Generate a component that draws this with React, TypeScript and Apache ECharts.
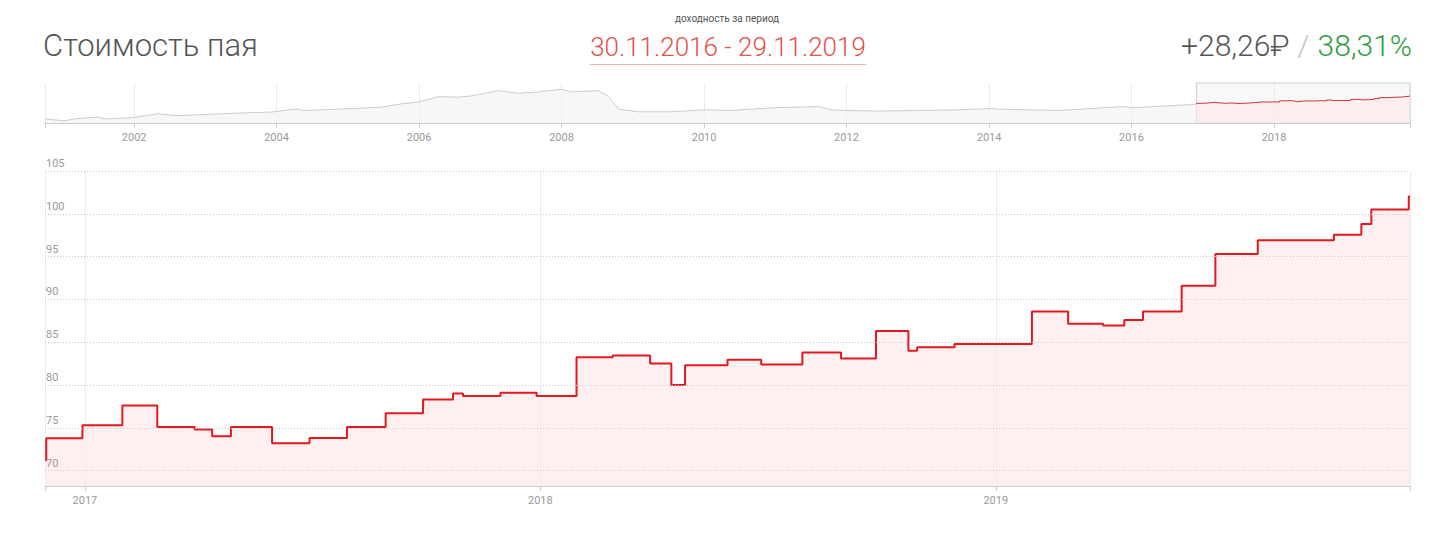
import React, { useEffect, useRef } from "react";
import * as echarts from "echarts";

// Main chart: unit price (step series), 30.11.2016 - 29.11.2019
const mainDates = [
  "2016-11-30", "2016-12-01", "2016-12-30", "2017-01-31", "2017-02-28", "2017-03-30",
  "2017-04-13", "2017-04-28", "2017-05-31", "2017-06-30", "2017-07-30", "2017-08-30",
  "2017-09-29", "2017-10-23", "2017-10-31", "2017-11-30", "2017-12-29", "2018-01-30",
  "2018-02-28", "2018-03-30", "2018-04-16", "2018-04-27", "2018-05-31", "2018-06-27",
  "2018-07-30", "2018-08-30", "2018-09-27", "2018-10-23", "2018-10-30", "2018-11-29",
  "2019-01-30", "2019-02-28", "2019-03-28", "2019-04-14", "2019-04-29", "2019-05-30",
  "2019-06-26", "2019-07-30", "2019-09-29", "2019-10-21", "2019-10-29", "2019-11-28",
  "2019-11-29",
];
const mainValues = [
  71.2, 73.77, 75.3, 77.6, 75.1, 74.8,
  74.0, 75.1, 73.2, 73.8, 75.1, 76.7,
  78.3, 79.0, 78.7, 79.1, 78.7, 83.25,
  83.45, 82.5, 80.0, 82.3, 82.95, 82.4,
  83.8, 83.1, 86.3, 84.0, 84.4, 84.8,
  88.6, 87.15, 86.95, 87.6, 88.6, 91.6,
  95.3, 96.9, 97.55, 98.8, 100.5, 102.03,
  102.03,
];

// Navigator: full history before the selected period
const navDates = [
  "2000-10-01", "2001-01-12", "2001-02-24", "2001-07-01", "2001-08-04", "2001-12-17",
  "2002-05-05", "2002-08-15", "2003-01-01", "2003-06-20", "2003-12-05", "2004-04-05",
  "2004-05-26", "2004-11-13", "2005-06-22", "2005-10-01", "2005-12-28", "2006-04-10",
  "2006-07-20", "2006-09-25", "2007-01-07", "2007-02-10", "2007-05-23", "2007-09-03",
  "2008-01-01", "2008-02-20", "2008-07-08", "2008-08-29", "2008-10-19", "2009-01-30",
  "2009-07-17", "2010-01-08", "2010-05-21", "2010-12-14", "2011-04-28", "2011-08-09",
  "2011-10-16", "2011-12-27", "2012-06-14", "2013-07-27", "2014-01-12", "2014-02-17",
  "2014-12-20", "2015-06-08", "2015-12-01", "2016-01-01", "2016-11-06", "2016-11-30",
];
const navValues = [
  14.9, 8, 14.9, 22.3, 14.9, 19.7,
  34.6, 27.2, 32, 37.2, 41, 52,
  47, 52, 59.6, 71.8, 78.2, 99,
  96.8, 101.6, 116.5, 121.3, 111.7, 116.5,
  126.5, 116.5, 121.3, 99, 52, 42,
  42, 49.5, 47, 57, 59.6, 61.8,
  49.5, 47, 44.7, 49.5, 54.3, 52,
  47, 54.3, 61.8, 57, 69.2, 71.2,
];

const yTicks = [70, 75, 80, 85, 90, 95, 100, 105];
const mainYears = ["2017-01-01", "2018-01-01", "2019-01-01"];
const navYears = [
  "2002-01-01", "2004-01-01", "2006-01-01", "2008-01-01", "2010-01-01",
  "2012-01-01", "2014-01-01", "2016-01-01", "2018-01-01",
];
const periodStart = "2016-11-30";
const periodEnd = "2019-11-29";
const navStart = "2000-10-01";

const FONT = "Roboto, 'Noto Sans', sans-serif";
const ts = (d: string) => Date.parse(d + "T00:00:00Z");

export default function App() {
  const ref = useRef<HTMLDivElement>(null);

  useEffect(() => {
    if (!ref.current) return;
    const chart = echarts.init(ref.current, null, { renderer: "svg" });
    const mainData = mainDates.map((d, i) => [ts(d), mainValues[i]]);
    const navData = navDates.map((d, i) => [ts(d), navValues[i]]);
    const yearFmt = (v: number) => String(new Date(v).getUTCFullYear());
    const pS = ts(periodStart);
    const pE = ts(periodEnd);
    const nS = ts(navStart);

    chart.setOption({
      animation: false,
      textStyle: { fontFamily: FONT },
      grid: [
        { left: 45, right: 30, top: 83, height: 40 },
        { left: 45, right: 30, top: 171, height: 315 },
      ],
      xAxis: [
        {
          type: "value",
          gridIndex: 0,
          min: nS,
          max: pE,
          axisLine: { show: true, lineStyle: { color: "#cccccc" } },
          axisTick: {
            show: true,
            length: 5,
            customValues: [nS, ...navYears.map(ts), pE],
            lineStyle: { color: "#cccccc" },
          },
          axisLabel: {
            customValues: navYears.map(ts),
            formatter: yearFmt,
            color: "#999999",
            fontSize: 11,
            margin: 9,
            fontFamily: FONT,
          },
          splitLine: { show: true, lineStyle: { color: "#ececec" } },
        },
        {
          type: "value",
          gridIndex: 1,
          min: pS,
          max: pE,
          axisLine: { show: true, lineStyle: { color: "#cccccc" } },
          axisTick: {
            show: true,
            length: 5,
            customValues: [pS, ...mainYears.map(ts), pE],
            lineStyle: { color: "#cccccc" },
          },
          axisLabel: {
            customValues: mainYears.map(ts),
            formatter: yearFmt,
            color: "#999999",
            fontSize: 11,
            margin: 9,
            fontFamily: FONT,
          },
          splitLine: { show: true, lineStyle: { color: "#ececec" } },
        },
      ],
      yAxis: [
        {
          type: "value",
          gridIndex: 0,
          min: 0,
          max: 150,
          axisLine: { show: false },
          axisTick: { show: false },
          axisLabel: { show: false },
          splitLine: { show: false },
        },
        {
          type: "value",
          gridIndex: 1,
          min: 68.2,
          max: 105,
          z: 5,
          axisLine: { show: false },
          axisTick: { show: false, customValues: yTicks },
          axisLabel: {
            inside: true,
            customValues: yTicks,
            color: "#999999",
            fontSize: 11,
            margin: 1,
            verticalAlign: "bottom",
            padding: [0, 0, 2, 0],
            fontFamily: FONT,
          },
          splitLine: { show: true, lineStyle: { color: "#c8c8c8", type: [1, 2] } },
        },
      ],
      series: [
        {
          type: "line",
          xAxisIndex: 0,
          yAxisIndex: 0,
          data: navData,
          symbol: "none",
          lineStyle: { color: "#cccccc", width: 1 },
          areaStyle: { color: "#f4f4f4", origin: "start" },
          silent: true,
        },
        {
          type: "line",
          xAxisIndex: 0,
          yAxisIndex: 0,
          data: mainData,
          step: "end",
          symbol: "none",
          lineStyle: { color: "#cf3338", width: 1 },
          areaStyle: { color: "#fde9e9", origin: "start" },
          silent: true,
          markArea: {
            silent: true,
            itemStyle: { color: "rgba(230,230,230,0.25)", borderColor: "#cccccc", borderWidth: 1 },
            data: [[{ xAxis: pS }, { xAxis: pE }]],
          },
        },
        {
          type: "line",
          xAxisIndex: 1,
          yAxisIndex: 1,
          data: mainData,
          step: "end",
          symbol: "none",
          lineStyle: { color: "#e3191f", width: 2 },
          areaStyle: { color: "#fdeaea", origin: "start" },
          silent: true,
        },
      ],
      graphic: [
        {
          type: "text",
          x: 43,
          y: 45,
          style: {
            text: "Стоимость пая",
            font: `300 31px ${FONT}`,
            fill: "#555555",
            verticalAlign: "middle",
          },
        },
        {
          type: "text",
          x: 727,
          y: 18,
          style: {
            text: "доходность за период",
            font: `400 10px ${FONT}`,
            fill: "#555555",
            align: "center",
            verticalAlign: "middle",
          },
        },
        {
          type: "text",
          x: 728,
          y: 47,
          style: {
            text: "30.11.2016 - 29.11.2019",
            font: `300 26px ${FONT}`,
            fill: "#e5524c",
            align: "center",
            verticalAlign: "middle",
          },
        },
        {
          type: "line",
          shape: { x1: 590, y1: 64.5, x2: 866, y2: 64.5 },
          style: { stroke: "#f2b1ae", lineWidth: 1 },
        },
        {
          type: "text",
          x: 1412,
          y: 45,
          style: {
            text: "{a|+28,26₽}{s| }{b|/}{s| }{c|38,31%}",
            align: "right",
            verticalAlign: "middle",
            rich: {
              a: { font: `300 30px ${FONT}`, fill: "#555555" },
              s: { font: `300 30px ${FONT}`, fill: "#555555", width: 8 },
              b: { font: `300 30px ${FONT}`, fill: "#c4c4c4" },
              c: { font: `300 30px ${FONT}`, fill: "#2f9e3f" },
            },
          },
        },
      ],
    });

    return () => chart.dispose();
  }, []);

  return (
    <div
      ref={ref}
      style={{ position: "absolute", left: 0, top: 0, width: 1440, height: 533, background: "#ffffff" }}
    />
  );
}
